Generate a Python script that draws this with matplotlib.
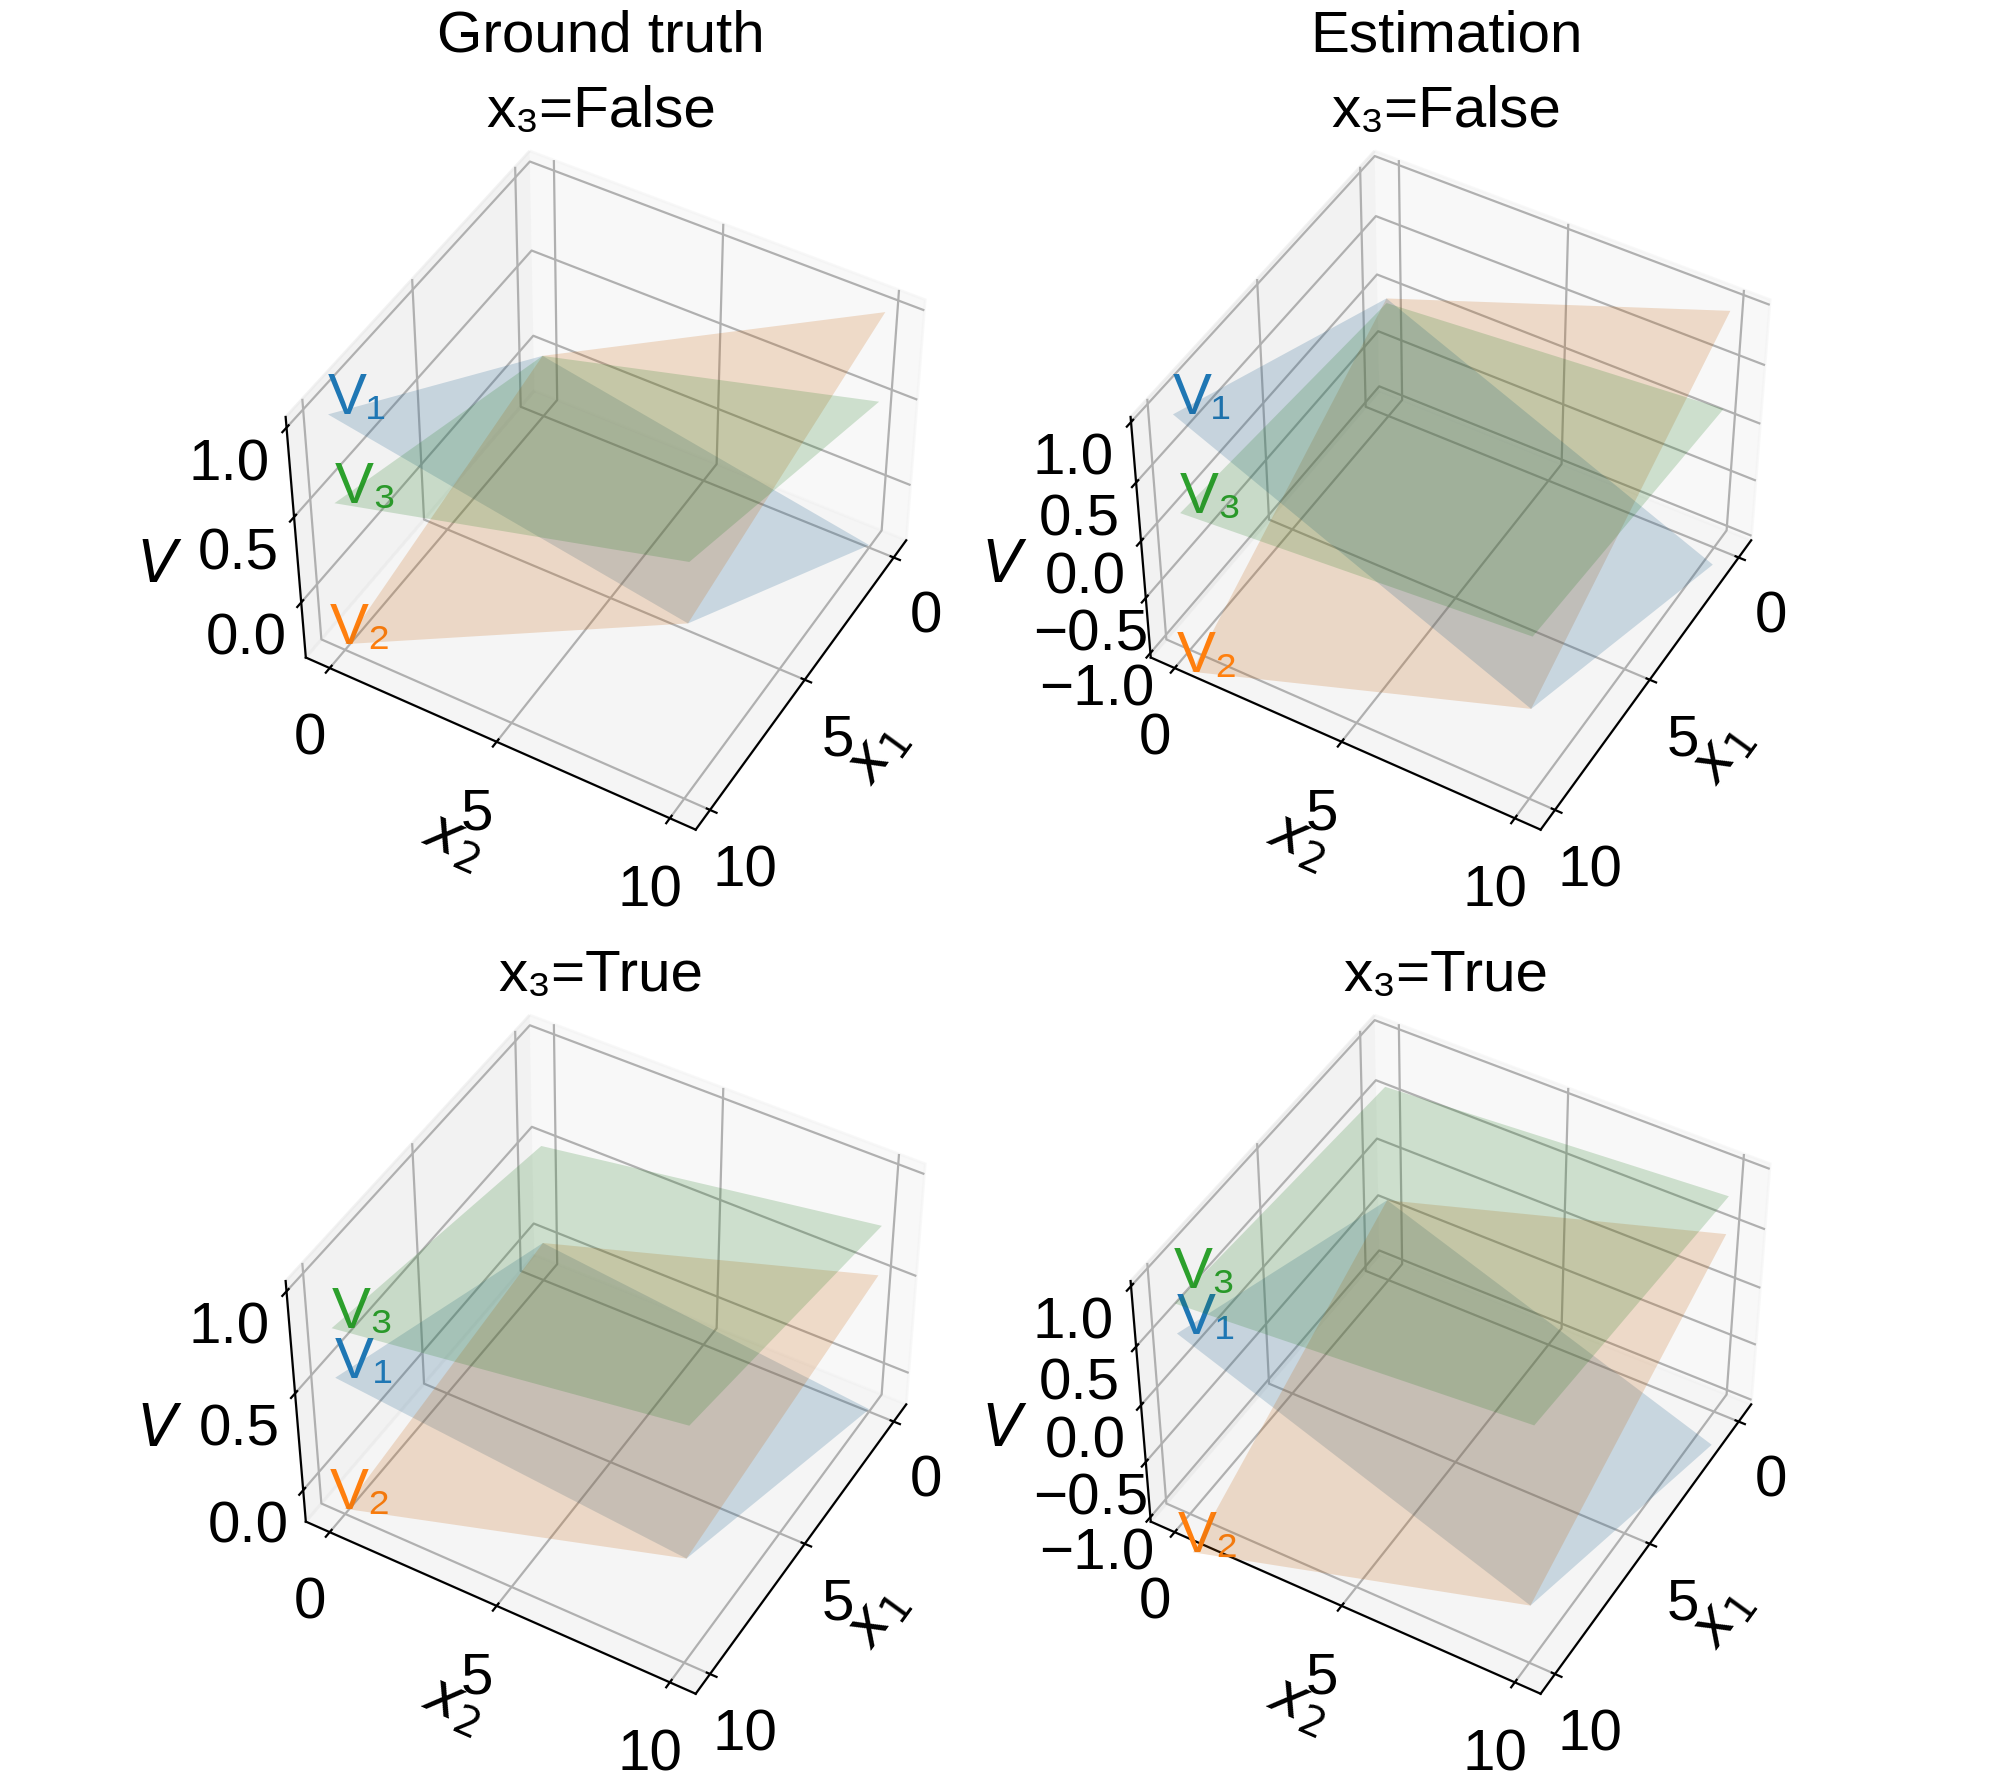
import numpy as np
import matplotlib
matplotlib.use('Agg')
import matplotlib.pyplot as plt
from matplotlib.transforms import ScaledTranslation

plt.rcParams['font.family'] = ['Liberation Sans', 'DejaVu Sans']
plt.rcParams['font.size'] = 21

# grid of the two continuous features
x1 = [0, 10]
x2 = [0, 10]

# V at the corners: rows x2 = 0, 10 ; columns x1 = 0, 10
gt_false = [
    [[0.03, 1.03], [-0.32, 0.70]],    # V1
    [[0.03, -0.30], [1.03, 0.70]],    # V2
    [[0.03, 0.535], [0.53, 1.04]],    # V3
]
gt_true = [
    [[0.03, 0.54], [-0.155, 0.38]],
    [[0.03, -0.14], [0.54, 0.38]],
    [[0.53, 0.785], [0.785, 1.035]],
]
est_false = [
    [[0.01, 1.00], [-1.20, -0.23]],
    [[0.01, -1.245], [1.01, -0.23]],
    [[-0.03, 0.175], [0.19, 0.395]],
]
est_true = [
    [[-0.32, 0.545], [-1.35, -0.52]],
    [[-0.32, -1.40], [0.52, -0.52]],
    [[0.655, 0.795], [0.835, 1.02]],
]

# height of each V label (at x1=10, x2=0)
label_v = [
    [1.03, -0.30, 0.535],
    [1.00, -1.245, 0.175],
    [0.54, -0.14, 0.785],
    [0.545, -1.40, 0.92],
]
label_dx = [0, -5.4, 0]   # points, small horizontal nudge of the labels

names = ['V\u2081', 'V\u2082', 'V\u2083']
colors = ['C0', 'C1', 'C2']
headers = ['Ground truth', 'Estimation', None, None]
titles = ['x\u2083=False', 'x\u2083=False', 'x\u2083=True', 'x\u2083=True']
panels = [gt_false, est_false, gt_true, est_true]
zlims = [(-0.335, 1.058), (-1.0417, 1.0417), (-0.168, 1.049), (-1.0417, 1.0417)]
zticks = [[0, 0.5, 1.0], [-1, -0.5, 0, 0.5, 1], [0, 0.5, 1.0], [-1, -0.5, 0, 0.5, 1]]

fig = plt.figure(figsize=(9.99, 8.91), dpi=200)
w, h = 0.3526, 0.3953
rects = [[0.1245, 0.5268, w, h], [0.5474, 0.5268, w, h],
         [0.1245, 0.0419, w, h], [0.5474, 0.0419, w, h]]

X1, X2 = np.meshgrid(x1, x2)
for i, (rect, planes, zl, zt) in enumerate(zip(rects, panels, zlims, zticks)):
    ax = fig.add_axes(rect, projection='3d')
    for name, vals, lv, dx, c in zip(names, planes, label_v[i], label_dx, colors):
        ax.plot_surface(X1, X2, np.array(vals), color=c, alpha=0.2, linewidth=0)
        tr = ax.transData + ScaledTranslation(dx / 72, 0, fig.dpi_scale_trans)
        ax.text(x1[-1], x2[0], lv, name, color=c, transform=tr)
    ax.set_xlim(-0.73, 10.73)
    ax.set_ylim(-0.73, 10.73)
    ax.set_zlim(*zl)
    ax.set_xticks([0, 5, 10])
    ax.set_yticks([0, 5, 10])
    ax.set_zticks(zt)
    ax.set_xlabel('$x_1$')
    ax.set_ylabel('$x_2$')
    ax.set_zlabel('$V$', labelpad=7)
    ax.view_init(elev=45, azim=30)
    ax.set_title(titles[i], fontsize=21, pad=2.5)
    if headers[i]:
        ax.annotate(headers[i], xy=(0.5, 0), xycoords=ax.title,
                    xytext=(0, 27.2), textcoords='offset points',
                    ha='center', va='bottom', fontsize=21)

fig.savefig('out.png')
